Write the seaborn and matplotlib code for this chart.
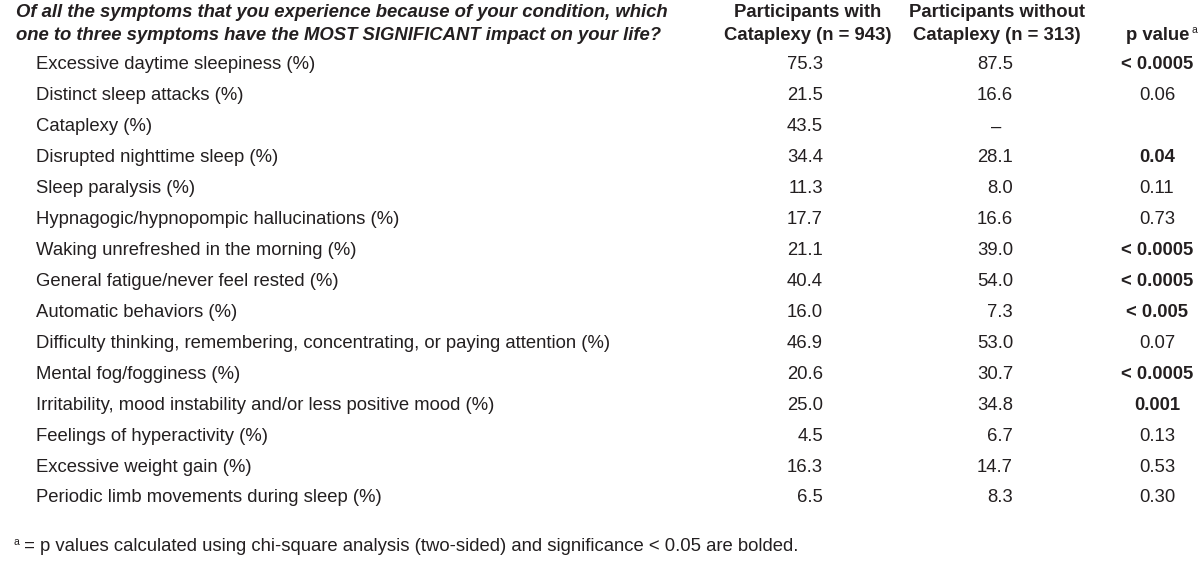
"""
Symptom impact table (cataplexy vs no cataplexy), drawn as text in a figure.
"""

import matplotlib
matplotlib.use("Agg")
import matplotlib.pyplot as plt
import pandas as pd
import seaborn as sns

# ─────────────────────────────────────────
# DATA
# ─────────────────────────────────────────

question = [
    "Of all the symptoms that you experience because of your condition, which",
    "one to three symptoms have the MOST SIGNIFICANT impact on your life?",
]
col_with = ["Participants with", "Cataplexy (n = 943)"]
col_without = ["Participants without", "Cataplexy (n = 313)"]
col_p = "p value"

symptoms = [
    "Excessive daytime sleepiness (%)",
    "Distinct sleep attacks (%)",
    "Cataplexy (%)",
    "Disrupted nighttime sleep (%)",
    "Sleep paralysis (%)",
    "Hypnagogic/hypnopompic hallucinations (%)",
    "Waking unrefreshed in the morning (%)",
    "General fatigue/never feel rested (%)",
    "Automatic behaviors (%)",
    "Difficulty thinking, remembering, concentrating, or paying attention (%)",
    "Mental fog/fogginess (%)",
    "Irritability, mood instability and/or less positive mood (%)",
    "Feelings of hyperactivity (%)",
    "Excessive weight gain (%)",
    "Periodic limb movements during sleep (%)",
]
with_cataplexy = [75.3, 21.5, 43.5, 34.4, 11.3, 17.7, 21.1, 40.4, 16.0, 46.9,
                  20.6, 25.0, 4.5, 16.3, 6.5]
without_cataplexy = [87.5, 16.6, None, 28.1, 8.0, 16.6, 39.0, 54.0, 7.3, 53.0,
                     30.7, 34.8, 6.7, 14.7, 8.3]
p_values = ["< 0.0005", "0.06", "", "0.04", "0.11", "0.73", "< 0.0005",
            "< 0.0005", "< 0.005", "0.07", "< 0.0005", "0.001", "0.13",
            "0.53", "0.30"]

footnote = " = p values calculated using chi-square analysis (two-sided) and significance < 0.05 are bolded."

df = pd.DataFrame({
    "symptom": symptoms,
    "with": with_cataplexy,
    "without": without_cataplexy,
    "p": p_values,
})


def is_significant(p):
    if not p:
        return False
    if p.startswith("<"):
        return True
    return float(p) < 0.05


# ─────────────────────────────────────────
# SETUP
# ─────────────────────────────────────────

sns.set_theme(style="white")
plt.rcParams["font.family"] = ["Liberation Sans Narrow", "Liberation Sans", "DejaVu Sans"]

FS = 13.3
INK = "#231f20"

fig = plt.figure(figsize=(12, 5.62), dpi=100)
ax = fig.add_axes([0, 0, 1, 1])
ax.set_xlim(0, 1200)
ax.set_ylim(16.07, -2.10)  # y in row units
ax.axis("off")

# column anchors (x, pixels)
X_LABEL = 36
X_WITH_HDR, X_WITH = 808, 823
X_WITHOUT_HDR, X_WITHOUT = 997, 1013
X_P = 1157

HDR_Y = -1.68   # first header line, row units
HDR_STEP = 0.72

# ─────────────────────────────────────────
# HEADER
# ─────────────────────────────────────────

for i, line in enumerate(question):
    ax.text(16, HDR_Y + i * HDR_STEP, line, fontsize=FS, fontweight="bold",
            fontstyle="italic", color=INK, va="center", ha="left")

for i, (a, b) in enumerate(zip(col_with, col_without)):
    ax.text(X_WITH_HDR, HDR_Y + i * HDR_STEP, a, fontsize=FS, fontweight="bold",
            color=INK, va="center", ha="center")
    ax.text(X_WITHOUT_HDR, HDR_Y + i * HDR_STEP, b, fontsize=FS, fontweight="bold",
            color=INK, va="center", ha="center")

ax.text(1189, HDR_Y + HDR_STEP, col_p, fontsize=FS, fontweight="bold", color=INK,
        va="center", ha="right")
ax.text(1192, HDR_Y + HDR_STEP - 0.18, "a", fontsize=7.5, color=INK,
        va="center", ha="left")

# ─────────────────────────────────────────
# BODY
# ─────────────────────────────────────────

for i, row in df.iterrows():
    ax.text(X_LABEL, i, row["symptom"], fontsize=FS, color=INK,
            va="center", ha="left")
    ax.text(X_WITH, i, f"{row['with']:.1f}", fontsize=FS, color=INK,
            va="center", ha="right")
    if pd.isna(row["without"]):
        ax.text(X_WITHOUT - 17, i, "–", fontsize=FS, color=INK,
                va="center", ha="center")
    else:
        ax.text(X_WITHOUT, i, f"{row['without']:.1f}", fontsize=FS, color=INK,
                va="center", ha="right")
    if row["p"]:
        ax.text(X_P, i, row["p"], fontsize=FS, color=INK, va="center",
                ha="center",
                fontweight="bold" if is_significant(row["p"]) else "normal")

# footnote
ax.text(13, 15.42, "a", fontsize=7.5, color=INK, va="center", ha="left")
ax.text(19, 15.58, footnote, fontsize=FS, color=INK, va="center", ha="left")

fig.savefig("out.png", dpi=100)
plt.close(fig)
